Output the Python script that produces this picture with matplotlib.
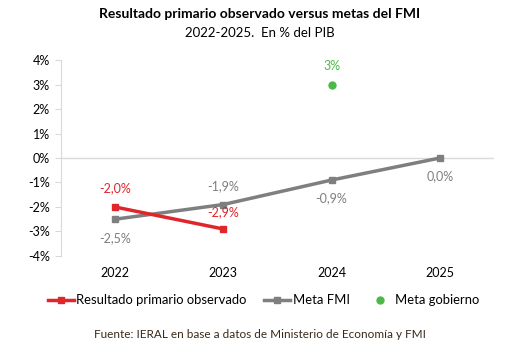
import matplotlib
matplotlib.use("Agg")
import matplotlib.pyplot as plt
from matplotlib.ticker import FuncFormatter

years = ["2022", "2023", "2024", "2025"]
observado = [-2.0, -2.9]
meta_fmi = [-2.5, -1.9, -0.9, 0.0]
meta_gob_x = [2]
meta_gob = [3.0]
yticks = [4, 3, 2, 1, 0, -1, -2, -3, -4]

RED = "#E0262B"
GRAY = "#7F7F7F"
GREEN = "#4DB848"
plt.rcParams['font.family'] = ['Lato', 'DejaVu Sans']

fig = plt.figure(figsize=(5.2, 3.62), dpi=100)
ax = fig.add_axes([0.117, 0.293, 0.833, 0.541])

x = list(range(len(years)))
ax.plot(x[:len(observado)], observado, color=RED, lw=2.5, marker="s", ms=5,
        label="Resultado primario observado", zorder=3)
ax.plot(x, meta_fmi, color=GRAY, lw=2.5, marker="s", ms=5, label="Meta FMI", zorder=2)
ax.plot(meta_gob_x, meta_gob, color=GREEN, lw=0, marker="o", ms=5, label="Meta gobierno", zorder=3)

def fmt(v):
    return f"{v:.1f}%".replace(".", ",")

ax.annotate(fmt(observado[0]), (0, observado[0]), xytext=(0, 9), textcoords="offset points",
            ha="center", va="bottom", color=RED, fontsize=9)
ax.annotate(fmt(observado[1]), (1, observado[1]), xytext=(0, 8), textcoords="offset points",
            ha="center", va="bottom", color=RED, fontsize=9)
ax.annotate(fmt(meta_fmi[0]), (0, meta_fmi[0]), xytext=(0, -9), textcoords="offset points",
            ha="center", va="top", color=GRAY, fontsize=9)
ax.annotate(fmt(meta_fmi[1]), (1, meta_fmi[1]), xytext=(0, 9), textcoords="offset points",
            ha="center", va="bottom", color=GRAY, fontsize=9)
ax.annotate(fmt(meta_fmi[2]), (2, meta_fmi[2]), xytext=(0, -9), textcoords="offset points",
            ha="center", va="top", color=GRAY, fontsize=9)
ax.annotate(fmt(meta_fmi[3]), (3, meta_fmi[3]), xytext=(0, -9), textcoords="offset points",
            ha="center", va="top", color=GRAY, fontsize=9)
ax.annotate(f"{meta_gob[0]:.0f}%", (meta_gob_x[0], meta_gob[0]), xytext=(0, 9), textcoords="offset points",
            ha="center", va="bottom", color=GREEN, fontsize=9)

ax.set_xlim(-0.5, 3.5)
ax.set_ylim(-4, 4)
ax.set_xticks(x)
ax.set_xticklabels(years, fontsize=9)
ax.set_yticks(yticks)
ax.yaxis.set_major_formatter(FuncFormatter(lambda v, p: f"{v:.0f}%"))
ax.tick_params(axis="y", labelsize=9, length=4, color="#D9D9D9", pad=4)
ax.tick_params(axis="x", length=0, pad=8)
for s in ["top", "right", "bottom"]:
    ax.spines[s].set_visible(False)
ax.spines["left"].set_color("#D9D9D9")
ax.axhline(0, color="#D9D9D9", lw=1, zorder=1)

fig.text(0.5, 0.962, "Resultado primario observado versus metas del FMI", ha="center", va="center",
         fontsize=10, fontweight="bold")
fig.text(0.5, 0.91, "2022-2025.  En % del PIB", ha="center", va="center", fontsize=9.5)

leg = fig.legend(loc="center", bbox_to_anchor=(0.507, 0.17), ncol=3, frameon=False, fontsize=9.4,
                 handlelength=2.0, columnspacing=1.3, handletextpad=0.2)
fig.text(0.5, 0.075, "Fuente: IERAL en base a datos de Ministerio de Economía y FMI", ha="center",
         va="center", fontsize=8.5, color="#3A2A1A")

fig.savefig("out.png", dpi=100)
